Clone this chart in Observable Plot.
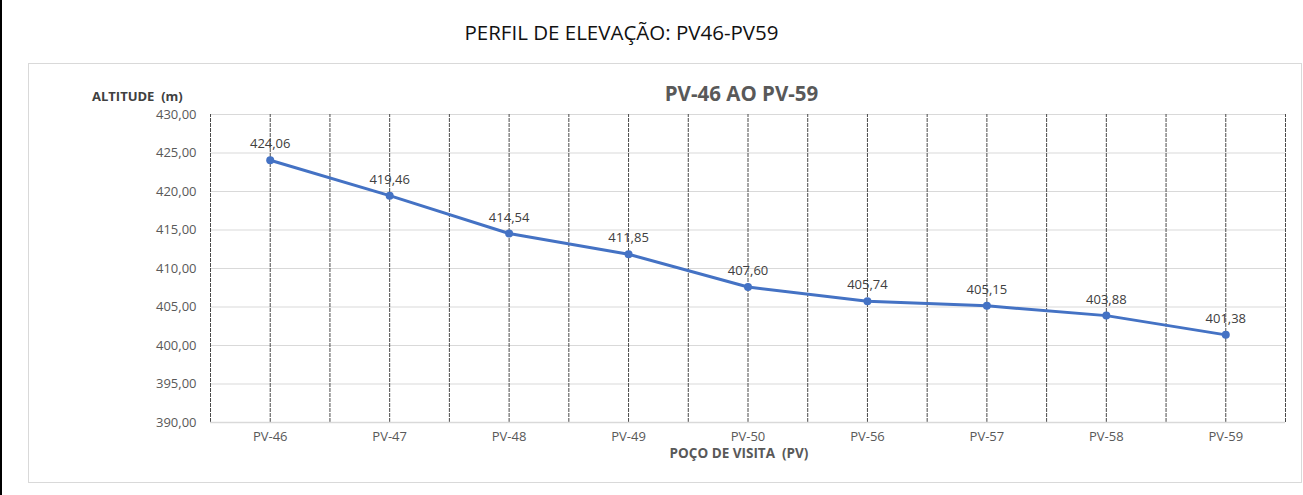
<!DOCTYPE html>
<html>
<head>
<meta charset="utf-8">
<script src="https://cdn.jsdelivr.net/npm/d3@7"></script>
<script src="https://cdn.jsdelivr.net/npm/@observablehq/plot@0.6"></script>
<style>
  html, body { margin: 0; padding: 0; background: #fff; }
  body { width: 1303px; height: 495px; position: relative; overflow: hidden; font-family: "Open Sans", "Liberation Sans", sans-serif; }
  #leftbar { position: absolute; left: 0; top: 0; width: 2px; height: 495px; background: #000; }
  #title { position: absolute; left: 0; width: 1243px; top: 18px; text-align: center; font-size: 20.5px; color: #111; }
  #box { position: absolute; left: 28px; top: 63px; width: 1272px; height: 418px; border: 1px solid #d9d9d9; }
  #ctitle { position: absolute; left: 0; width: 1483px; top: 79px; text-align: center; font-size: 20.5px; font-weight: bold; color: #595959; }
  #ylab { position: absolute; left: 92px; top: 87px; font-size: 13px; font-weight: bold; color: #404040; white-space: pre; }
  #xlab { position: absolute; left: 0; width: 1478px; top: 445px; line-height: 16px; text-align: center; font-size: 13.5px; font-weight: bold; color: #595959; white-space: pre; }
  #chart { position: absolute; left: 0; top: 100px; }
</style>
</head>
<body>
<div id="leftbar"></div>
<div id="title">PERFIL DE ELEVAÇÃO: PV46-PV59</div>
<div id="box"></div>
<div id="ctitle">PV-46 AO PV-59</div>
<div id="ylab">ALTITUDE  (m)</div>
<div id="xlab">POÇO DE VISITA  (PV)</div>
<div id="chart"></div>
<script>
const categories = ["PV-46", "PV-47", "PV-48", "PV-49", "PV-50", "PV-56", "PV-57", "PV-58", "PV-59"];
const altitudes = [424.06, 419.46, 414.54, 411.85, 407.60, 405.74, 405.15, 403.88, 401.38];
const yTicks = [390, 395, 400, 405, 410, 415, 420, 425, 430];

const data = categories.map((c, i) => ({ i, name: c, alt: altitudes[i] }));
const fmt = v => v.toFixed(2).replace(".", ",");
// vertical lines at category centers and boundaries
const vlines = d3.range(-0.5, categories.length, 0.5);

const plot = Plot.plot({
  width: 1303,
  height: 370,
  marginLeft: 210,
  marginRight: 18,
  marginTop: 14,
  marginBottom: 48,
  style: { fontFamily: "'Open Sans', 'Liberation Sans', sans-serif", fontSize: "13px", color: "#595959", background: "transparent" },
  x: { domain: [-0.5, categories.length - 0.5], label: null },
  y: { domain: [390, 430], label: null },
  marks: [
    Plot.gridY(yTicks, { stroke: "#d9d9d9", strokeOpacity: 1, strokeWidth: 1 }),
    Plot.ruleX(vlines, { stroke: "#4a4a4a", strokeWidth: 1, strokeDasharray: "4,1", y1: 390, y2: 430 }),
    Plot.ruleY([390], { stroke: "#d9d9d9", strokeWidth: 1.5 }),
    Plot.axisY(yTicks, { tickFormat: fmt, tickSize: 0, tickPadding: 14, label: null, fill: "#595959", fontSize: 13 }),
    Plot.axisX(d3.range(categories.length), { tickFormat: i => categories[i], tickSize: 0, tickPadding: 9, label: null, fill: "#595959", fontSize: 13 }),
    Plot.line(data, { x: "i", y: "alt", stroke: "#4472C4", strokeWidth: 3 }),
    Plot.dot(data, { x: "i", y: "alt", fill: "#4472C4", r: 4 }),
    Plot.text(data, { x: "i", y: "alt", text: d => fmt(d.alt), dy: -16, fill: "#404040", fontSize: 13 })
  ]
});
document.getElementById("chart").appendChild(plot);
</script>
</body>
</html>
